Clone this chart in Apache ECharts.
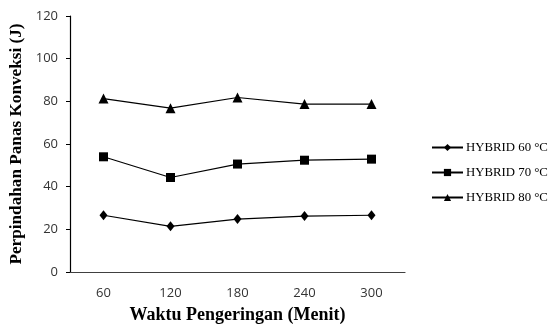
<!DOCTYPE html>
<html><head><meta charset="utf-8">
<script src="https://cdn.jsdelivr.net/npm/echarts@6/dist/echarts.min.js"></script>
<style>html,body{margin:0;padding:0;background:#fff}#c{width:548px;height:325px}</style>
</head><body><div id="c"></div>
<script>
const categories = ['60', '120', '180', '240', '300'];
const seriesNames = ['HYBRID 60 °C', 'HYBRID 70 °C', 'HYBRID 80 °C'];
const hybrid60 = [26.6, 21.4, 24.8, 26.2, 26.6];
const hybrid70 = [54.0, 44.3, 50.6, 52.4, 52.9];
const hybrid80 = [81.3, 76.8, 81.8, 78.7, 78.7];
const yTicks = [0, 20, 40, 60, 80, 100, 120];

const chart = echarts.init(document.getElementById('c'));
const mk = (name, data, symbol, size) => ({
  name, type: 'line', data, symbol, symbolSize: size,
  itemStyle: {color: '#000'}, lineStyle: {color: '#000', width: 1.2},
  emphasis: {disabled: true}, animation: false
});
chart.setOption({
  animation: false,
  grid: {left: 70, right: 143, top: 16, bottom: 53, outerBoundsMode: 'none', containLabel: false},
  legend: {
    orient: 'vertical', left: 431, top: 141, itemGap: 12, padding: 0,
    itemWidth: 31, itemHeight: 9,
    data: seriesNames,
    textStyle: {fontFamily: 'Liberation Serif', fontSize: 12.8, color: '#000', padding: [0,0,0,-2]}
  },
  xAxis: {
    type: 'category', data: categories, boundaryGap: true,
    name: 'Waktu Pengeringan (Menit)', nameLocation: 'middle', nameGap: 34,
    nameTextStyle: {fontFamily: 'Liberation Serif', fontWeight: 'bold', fontSize: 18, color: '#000'},
    axisLine: {lineStyle: {color: '#404040', width: 1.2}},
    axisTick: {show: false},
    axisLabel: {fontFamily: 'Open Sans', fontSize: 13, color: '#333', margin: 15}
  },
  yAxis: {
    type: 'value', min: yTicks[0], max: yTicks[yTicks.length-1], interval: 20,
    name: 'Perpindahan Panas Konveksi (J)', nameLocation: 'middle', nameGap: 44,
    nameTextStyle: {fontFamily: 'Liberation Serif', fontWeight: 'bold', fontSize: 17.2, color: '#000'},
    axisLine: {show: true, lineStyle: {color: '#000', width: 1.2}},
    axisTick: {show: true, length: 4, lineStyle: {color: '#000'}},
    splitLine: {show: false},
    axisLabel: {fontFamily: 'Open Sans', fontSize: 13, color: '#333', margin: 12}
  },
  series: [
    mk(seriesNames[0], hybrid60, 'diamond', [8, 10]),
    mk(seriesNames[1], hybrid70, 'rect', 9),
    mk(seriesNames[2], hybrid80, 'triangle', 10)
  ]
});
</script></body></html>
